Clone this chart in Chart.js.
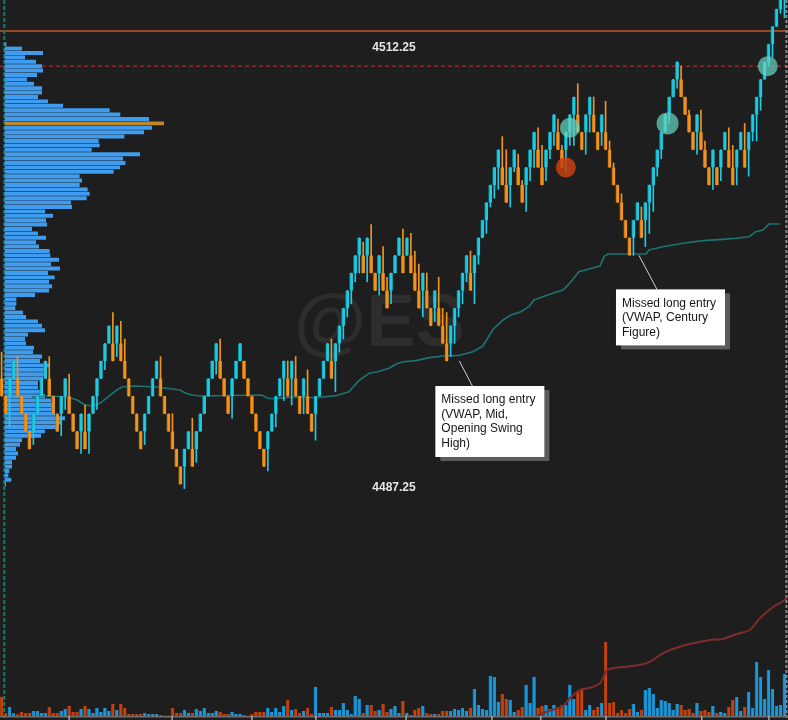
<!DOCTYPE html>
<html>
<head>
<meta charset="utf-8">
<title>@ES 1pt renko</title>
<script src="https://cdn.jsdelivr.net/npm/chart.js@4.4.1/dist/chart.umd.min.js"></script>
<style>
  html, body { margin: 0; padding: 0; background: #1e1e1e; overflow: hidden; }
  canvas { display: block; }
</style>
</head>
<body>
<canvas id="renko" width="788" height="720"></canvas>
<script>
// 1 point renko bricks, left to right
const candleOpen = [
  4493.25, 4492.25, 4492.25, 4493.25, 4493.25, 4492.25, 4491.25, 4490.25, 4490.25, 4491.25,
  4492.25, 4493.25, 4493.25, 4492.25, 4491.25, 4491.25, 4492.25, 4492.25, 4491.25, 4490.25,
  4490.25, 4490.25, 4490.25, 4491.25, 4492.25, 4493.25, 4494.25, 4495.25, 4495.25, 4495.25,
  4495.25, 4494.25, 4493.25, 4492.25, 4491.25, 4490.25, 4490.25, 4491.25, 4492.25, 4493.25,
  4493.25, 4492.25, 4491.25, 4490.25, 4489.25, 4488.25, 4488.25, 4489.25, 4489.25, 4489.25,
  4490.25, 4491.25, 4492.25, 4493.25, 4494.25, 4494.25, 4493.25, 4492.25, 4492.25, 4493.25,
  4494.25, 4494.25, 4493.25, 4492.25, 4491.25, 4490.25, 4489.25, 4489.25, 4490.25, 4491.25,
  4492.25, 4493.25, 4493.25, 4493.25, 4493.25, 4492.25, 4492.25, 4492.25, 4491.25, 4491.25,
  4492.25, 4493.25, 4494.25, 4494.25, 4494.25, 4495.25, 4496.25, 4497.25, 4498.25, 4499.25,
  4500.25, 4500.25, 4500.25, 4500.25, 4499.25, 4499.25, 4499.25, 4498.25, 4498.25, 4499.25,
  4500.25, 4500.25, 4500.25, 4500.25, 4499.25, 4498.25, 4498.25, 4498.25, 4497.25, 4497.25,
  4497.25, 4496.25, 4495.25, 4495.25, 4496.25, 4497.25, 4498.25, 4499.25, 4499.25, 4499.25,
  4500.25, 4501.25, 4502.25, 4503.25, 4504.25, 4505.25, 4505.25, 4504.25, 4504.25, 4505.25,
  4505.25, 4504.25, 4504.25, 4505.25, 4506.25, 4506.25, 4505.25, 4505.25, 4506.25, 4507.25,
  4507.25, 4506.25, 4506.25, 4507.25, 4508.25, 4508.25, 4507.25, 4507.25, 4508.25, 4508.25,
  4507.25, 4507.25, 4507.25, 4506.25, 4505.25, 4504.25, 4503.25, 4502.25, 4501.25, 4501.25,
  4502.25, 4502.25, 4502.25, 4503.25, 4504.25, 4505.25, 4506.25, 4507.25, 4508.25, 4509.25,
  4510.25, 4510.25, 4509.25, 4508.25, 4507.25, 4507.25, 4507.25, 4506.25, 4505.25, 4505.25,
  4505.25, 4505.25, 4506.25, 4506.25, 4505.25, 4505.25, 4506.25, 4506.25, 4506.25, 4507.25,
  4508.25, 4509.25, 4510.25, 4511.25, 4512.25, 4513.25, 4514.25, 4515.25
];
const candleClose = [
  4492.25, 4491.25, 4493.25, 4494.25, 4492.25, 4491.25, 4490.25, 4489.25, 4491.25, 4492.25,
  4493.25, 4494.25, 4492.25, 4491.25, 4490.25, 4492.25, 4493.25, 4491.25, 4490.25, 4489.25,
  4491.25, 4489.25, 4491.25, 4492.25, 4493.25, 4494.25, 4495.25, 4496.25, 4494.25, 4496.25,
  4494.25, 4493.25, 4492.25, 4491.25, 4490.25, 4489.25, 4491.25, 4492.25, 4493.25, 4494.25,
  4492.25, 4491.25, 4490.25, 4489.25, 4488.25, 4487.25, 4489.25, 4490.25, 4488.25, 4490.25,
  4491.25, 4492.25, 4493.25, 4494.25, 4495.25, 4493.25, 4492.25, 4491.25, 4493.25, 4494.25,
  4495.25, 4493.25, 4492.25, 4491.25, 4490.25, 4489.25, 4488.25, 4490.25, 4491.25, 4492.25,
  4493.25, 4494.25, 4492.25, 4494.25, 4492.25, 4491.25, 4493.25, 4491.25, 4490.25, 4492.25,
  4493.25, 4494.25, 4495.25, 4493.25, 4495.25, 4496.25, 4497.25, 4498.25, 4499.25, 4500.25,
  4501.25, 4499.25, 4501.25, 4499.25, 4498.25, 4500.25, 4498.25, 4497.25, 4499.25, 4500.25,
  4501.25, 4499.25, 4501.25, 4499.25, 4498.25, 4497.25, 4499.25, 4497.25, 4496.25, 4498.25,
  4496.25, 4495.25, 4494.25, 4496.25, 4497.25, 4498.25, 4499.25, 4500.25, 4498.25, 4500.25,
  4501.25, 4502.25, 4503.25, 4504.25, 4505.25, 4506.25, 4504.25, 4503.25, 4505.25, 4506.25,
  4504.25, 4503.25, 4505.25, 4506.25, 4507.25, 4505.25, 4504.25, 4506.25, 4507.25, 4508.25,
  4506.25, 4505.25, 4507.25, 4508.25, 4509.25, 4507.25, 4506.25, 4508.25, 4509.25, 4507.25,
  4506.25, 4508.25, 4506.25, 4505.25, 4504.25, 4503.25, 4502.25, 4501.25, 4500.25, 4502.25,
  4503.25, 4501.25, 4503.25, 4504.25, 4505.25, 4506.25, 4507.25, 4508.25, 4509.25, 4510.25,
  4511.25, 4509.25, 4508.25, 4507.25, 4506.25, 4508.25, 4506.25, 4505.25, 4504.25, 4506.25,
  4504.25, 4506.25, 4507.25, 4505.25, 4504.25, 4506.25, 4507.25, 4505.25, 4507.25, 4508.25,
  4509.25, 4510.25, 4511.25, 4512.25, 4513.25, 4514.25, 4515.25, 4516.25
];
const candleHigh = [
  4494.75, 4492.25, 4493.25, 4494.25, 4494.5, 4492.25, 4491.25, 4490.25, 4491.25, 4492.25,
  4493.25, 4494.25, 4494.5, 4492.25, 4491.25, 4492.25, 4493.25, 4493.5, 4491.25, 4490.25,
  4491.25, 4491.75, 4491.25, 4492.25, 4493.25, 4494.25, 4495.25, 4496.25, 4497.0, 4496.25,
  4496.5, 4495.5, 4493.25, 4492.25, 4491.25, 4490.25, 4491.25, 4492.25, 4493.25, 4494.25,
  4494.5, 4492.25, 4491.25, 4491.25, 4489.25, 4488.25, 4489.25, 4490.25, 4491.0, 4490.25,
  4491.25, 4492.25, 4493.25, 4494.25, 4495.25, 4495.5, 4493.25, 4492.25, 4493.25, 4494.25,
  4495.25, 4494.25, 4493.25, 4492.25, 4491.25, 4490.25, 4489.25, 4490.25, 4491.25, 4492.25,
  4493.25, 4494.25, 4494.25, 4494.25, 4494.5, 4492.25, 4493.25, 4493.75, 4491.25, 4492.25,
  4493.25, 4494.25, 4495.25, 4495.5, 4495.25, 4496.25, 4497.25, 4498.25, 4499.25, 4500.25,
  4501.25, 4501.0, 4501.25, 4502.0, 4499.25, 4500.25, 4500.75, 4499.0, 4499.25, 4500.25,
  4501.25, 4501.75, 4501.25, 4501.5, 4500.5, 4499.75, 4499.25, 4499.25, 4497.25, 4498.25,
  4499.0, 4497.25, 4497.0, 4496.25, 4497.25, 4498.25, 4499.25, 4500.25, 4500.5, 4500.25,
  4501.25, 4502.25, 4503.25, 4504.25, 4505.25, 4506.25, 4507.0, 4506.25, 4505.25, 4506.25,
  4506.0, 4504.5, 4505.25, 4506.25, 4507.25, 4507.5, 4506.5, 4506.25, 4507.25, 4508.25,
  4508.0, 4506.5, 4507.25, 4508.25, 4509.25, 4510.0, 4507.25, 4508.25, 4509.25, 4509.25,
  4507.25, 4508.25, 4509.0, 4506.75, 4505.5, 4504.25, 4503.75, 4502.25, 4501.25, 4502.25,
  4503.25, 4503.0, 4503.25, 4504.25, 4505.25, 4506.25, 4507.25, 4508.25, 4509.25, 4510.25,
  4511.25, 4511.0, 4509.25, 4508.5, 4507.25, 4508.25, 4508.5, 4506.75, 4505.25, 4506.25,
  4505.25, 4506.25, 4507.25, 4507.5, 4506.5, 4506.25, 4507.25, 4507.75, 4507.25, 4508.25,
  4509.25, 4510.25, 4511.25, 4512.25, 4513.25, 4514.25, 4515.25, 4516.25
];
const candleLow = [
  4492.25, 4491.25, 4490.5, 4493.25, 4492.25, 4491.25, 4490.25, 4489.25, 4489.5, 4491.25,
  4492.25, 4493.25, 4492.25, 4491.25, 4490.25, 4490.0, 4491.5, 4491.25, 4490.25, 4489.25,
  4489.0, 4489.25, 4489.0, 4491.25, 4491.5, 4493.25, 4493.75, 4495.25, 4494.25, 4494.5,
  4494.25, 4493.25, 4492.25, 4491.25, 4490.25, 4489.25, 4489.5, 4491.25, 4492.25, 4493.25,
  4492.25, 4491.25, 4490.25, 4489.25, 4488.25, 4487.25, 4487.0, 4489.25, 4488.25, 4488.5,
  4490.25, 4491.25, 4492.25, 4493.25, 4493.5, 4493.25, 4492.25, 4491.25, 4491.0, 4493.25,
  4494.25, 4493.25, 4492.25, 4491.25, 4490.25, 4489.25, 4488.25, 4488.0, 4490.25, 4490.5,
  4492.25, 4492.0, 4492.25, 4491.75, 4492.25, 4491.25, 4491.25, 4491.25, 4490.25, 4489.75,
  4492.25, 4493.25, 4494.25, 4493.25, 4492.5, 4494.75, 4495.5, 4496.75, 4497.5, 4498.75,
  4499.25, 4499.25, 4498.75, 4499.25, 4498.25, 4498.0, 4498.25, 4497.25, 4497.5, 4499.25,
  4500.25, 4499.25, 4500.25, 4499.25, 4498.25, 4497.25, 4496.75, 4497.25, 4496.25, 4496.5,
  4496.25, 4495.25, 4494.25, 4494.5, 4495.25, 4496.75, 4497.5, 4498.75, 4498.25, 4497.5,
  4499.75, 4501.25, 4501.5, 4503.0, 4503.5, 4504.0, 4504.25, 4503.25, 4503.0, 4505.0,
  4504.25, 4503.25, 4502.75, 4504.5, 4505.25, 4505.25, 4504.25, 4504.5, 4505.75, 4506.5,
  4506.25, 4505.25, 4505.0, 4506.5, 4506.5, 4507.25, 4506.25, 4506.0, 4507.25, 4507.25,
  4506.25, 4506.5, 4506.25, 4505.25, 4504.25, 4503.25, 4502.25, 4501.25, 4500.25, 4500.25,
  4502.25, 4501.25, 4500.75, 4501.5, 4502.75, 4504.75, 4505.75, 4507.25, 4507.75, 4509.25,
  4509.75, 4509.25, 4508.25, 4507.25, 4506.25, 4506.0, 4506.25, 4505.25, 4504.25, 4504.0,
  4504.25, 4504.5, 4506.25, 4505.25, 4504.25, 4504.25, 4506.25, 4505.25, 4504.75, 4506.75,
  4506.75, 4508.5, 4510.25, 4511.0, 4511.5, 4513.25, 4514.0, 4513.75
];
const volume = [
  965, 135, 450, 135, 85, 200, 150, 150, 250, 250,
  150, 150, 450, 150, 150, 250, 350, 500, 200, 200,
  350, 500, 350, 150, 400, 200, 400, 250, 600, 300,
  600, 400, 100, 100, 100, 100, 150, 100, 100, 100,
  50, 25, 25, 400, 150, 150, 300, 150, 150, 350,
  250, 400, 150, 150, 250, 200, 100, 100, 200, 100,
  100, 50, 25, 100, 200, 200, 200, 400, 200, 400,
  200, 500, 800, 300, 350, 150, 250, 400, 100, 1450,
  150, 150, 150, 450, 300, 300, 650, 300, 100, 1000,
  850, 150, 550, 550, 250, 300, 600, 200, 350, 500,
  150, 750, 150, 50, 300, 400, 500, 150, 100, 100,
  100, 250, 250, 250, 350, 300, 400, 250, 400, 1350,
  550, 350, 300, 2000, 1950, 700, 1100, 850, 800, 200,
  300, 450, 1550, 650, 1950, 400, 500, 550, 350, 550,
  450, 550, 550, 1550, 850, 1250, 1350, 300, 550, 300,
  450, 650, 3700, 650, 700, 150, 300, 150, 350, 600,
  200, 300, 1300, 1400, 1100, 400, 800, 750, 650, 300,
  600, 550, 300, 350, 150, 650, 250, 300, 200, 500,
  150, 200, 150, 450, 800, 950, 250, 450, 1200, 400,
  2700, 1950, 850, 2300, 1350, 500, 550, 2100
];

// session VWAP, read at brick positions
const vwapAt = [7.6, 12.2, 16.5, 19, 21, 22.8, 24.8, 26.5, 29, 30.3, 33.1, 39.1, 42.9, 44.9, 46.2, 47.9, 49.9,
  65.5, 67, 69, 74.1, 79.1, 84.2, 87.4, 89.9, 92.5, 94.7, 97.5, 99.3, 101, 104.3, 107.6, 111.1, 115.1,
  118.6, 121.1, 123.7, 126.2, 128.2, 130.7, 132.7, 134, 136.2, 138.7, 141.3, 142.8, 145.3, 147.8, 150.6,
  151.6, 152.6, 162.2, 162.9, 166.4, 171.5, 176.5, 181.5, 184.8, 188.1, 189.8, 191.6, 193.1, 195.9];
const vwapPrice = [4492.2, 4492.26, 4492.2, 4492.03, 4491.75, 4491.69, 4491.86, 4492.15, 4492.6, 4492.77,
  4492.83, 4492.77, 4492.66, 4492.6, 4492.43, 4492.32, 4492.26, 4492.32, 4492.13, 4492.11, 4492.22,
  4492.16, 4492.28, 4492.5, 4493.13, 4493.55, 4493.64, 4493.84, 4494.08, 4494.21, 4494.27, 4494.44,
  4494.53, 4494.57, 4494.78, 4495.1, 4496.05, 4496.58, 4496.86, 4497.05, 4497.34, 4497.72, 4497.9,
  4498.1, 4498.28, 4498.63, 4499.32, 4499.48, 4499.65, 4500.18, 4500.33, 4500.33, 4500.56, 4500.74,
  4500.94, 4501.09, 4501.16, 4501.22, 4501.31, 4501.6, 4501.69, 4502.03, 4502.03];

// cumulative volume of the new session (bottom panel)
const cumAt = [134.7, 137.6, 141.3, 143, 145.5, 148.1, 150.6, 152.3, 153.9, 156.4, 160.6, 163.2, 165.7,
  168.2, 170.7, 173.2, 178.3, 181.5, 185, 188.3, 190.8, 194.2, 195.9, 197.7];
const cumVolume = [0, 2500, 5000, 8850, 13000, 14150, 16350, 22650, 24000, 24500, 25500, 27150, 30500,
  33000, 34650, 36000, 38000, 38500, 41000, 43000, 48850, 54650, 56500, 59000];

// volume profile, one row per tick from the top
const profileTop = 4512.25;
const profileTick = 0.25;
const profileVolume = [
  25, 417, 942, 492, 767, 917, 942, 792, 542, 717,
  917, 917, 817, 1067, 1442, 2608, 2875, 3592, 3967, 3667,
  3467, 2975, 2333, 2358, 2158, 3367, 2942, 3000, 2867, 2708,
  1858, 1917, 1858, 2058, 2108, 2033, 1642, 1667, 992, 1192,
  1017, 1042, 667, 817, 1017, 767, 842, 1108, 1125, 1342,
  1142, 1367, 1067, 1233, 1092, 1167, 1092, 742, 275, 275,
  250, 442, 517, 817, 917, 992, 567, 492, 517, 717,
  692, 917, 867, 1092, 992, 967, 942, 817, 817, 867,
  992, 1142, 1167, 1167, 1242, 1492, 1392, 1317, 992, 892,
  417, 367, 267, 317, 267, 167, 167, 100, 75, 150, 17
];

const levelPrice = [4513.0, 4511.0];
const labelPrice = [4512.25, 4487.25];
const timeTicks = [17, 42.9, 63, 79.1, 101.8, 123.4, 135.7, 152.1, 176.2, 193.1];
const sessionBreaks = [0.68, 197.5];

const entryAt = [142, 143, 167.6, 192.8];
const entryPrice = [4505.25, 4507.5, 4507.75, 4511.0];
const entrySide = ['short', 'long', 'long', 'long'];

const noteAt = [115.2, 160.4];
const notePrice = [4494.25, 4500.25];
const noteText = [
  ['Missed long entry', '(VWAP, Mid,', 'Opening Swing', 'High)'],
  ['Missed long entry', '(VWAP, Century', 'Figure)']
];

// styles
const BG = '#1e1e1e';
const col = {
  up: '#1ccbe3', upEdge: '#0e97a8', down: '#f1931d', downEdge: '#bf6a10',
  volUp: '#1b97da', volDown: '#c4420e', profile: '#3f9cee', poc: '#c0882a',
  vwap: '#1d7272', cum: '#7e2c2c'
};
const noteBox = [
  { dx: -24, dy: 25, w: 109, h: 71, lx: 13 },
  { dx: -23, dy: 34, w: 109, h: 56, lx: 18 }
];
const FONT = '"Liberation Sans", Arial, sans-serif';

const isUp = candleOpen.map((o, i) => candleClose[i] > o);
const pocVol = Math.max.apply(null, profileVolume);

const overlay = {
  id: 'overlay',
  beforeDraw(chart) {
    const ctx = chart.ctx;
    ctx.save();
    ctx.fillStyle = BG;
    ctx.fillRect(0, 0, chart.width, chart.height);
    ctx.restore();
  },
  beforeDatasetsDraw(chart) {
    const { ctx, chartArea: a, scales } = chart;
    const x = scales.x, y = scales.y;
    ctx.save();
    // watermark
    ctx.font = 'bold 74px ' + FONT;
    ctx.fillStyle = '#2d2d2d';
    ctx.textBaseline = 'alphabetic';
    ctx.textAlign = 'left';
    ctx.fillText('@ES', a.left + 294, a.top + 346);

    // level lines
    let py = y.getPixelForValue(levelPrice[0]);
    ctx.strokeStyle = '#c2562a';
    ctx.lineWidth = 1.5;
    ctx.beginPath(); ctx.moveTo(a.left, py); ctx.lineTo(a.right, py); ctx.stroke();
    py = y.getPixelForValue(levelPrice[1]);
    ctx.strokeStyle = '#8e2a2a';
    ctx.setLineDash([4, 3]);
    ctx.beginPath(); ctx.moveTo(a.left, py); ctx.lineTo(a.right, py); ctx.stroke();

    // session separators
    ctx.lineWidth = 2;
    ctx.setLineDash([4, 2]);
    ctx.strokeStyle = '#177a72';
    let px = x.getPixelForValue(sessionBreaks[0]);
    ctx.beginPath(); ctx.moveTo(px, a.top); ctx.lineTo(px, a.bottom); ctx.stroke();
    ctx.setLineDash([3, 2]);
    ctx.strokeStyle = '#8a8a8a';
    px = x.getPixelForValue(sessionBreaks[1]);
    ctx.beginPath(); ctx.moveTo(px, a.top); ctx.lineTo(px, a.bottom); ctx.stroke();
    ctx.restore();
  },
  afterDatasetsDraw(chart) {
    const { ctx, chartArea: a, scales } = chart;
    const x = scales.x, y = scales.y, yv = scales.yv;
    ctx.save();

    // time axis at the volume base
    const base = yv.getPixelForValue(0);
    ctx.strokeStyle = '#6e6e6e';
    ctx.lineWidth = 1.5;
    ctx.beginPath(); ctx.moveTo(a.left, base + 0.75); ctx.lineTo(a.right, base + 0.75); ctx.stroke();
    ctx.strokeStyle = '#a8a8a8';
    ctx.lineWidth = 1.5;
    timeTicks.forEach(function(t) {
      const tx = x.getPixelForValue(t);
      ctx.beginPath(); ctx.moveTo(tx, base); ctx.lineTo(tx, a.bottom); ctx.stroke();
    });

    // profile high / low prices
    ctx.font = 'bold 12px ' + FONT;
    ctx.fillStyle = '#e4e4e4';
    ctx.textAlign = 'center';
    ctx.textBaseline = 'middle';
    labelPrice.forEach(function(p) {
      ctx.fillText(p.toFixed(2), (a.left + a.right) / 2, y.getPixelForValue(p) + 3);
    });

    // notes
    ctx.font = '12px ' + FONT;
    ctx.textAlign = 'left';
    noteAt.forEach(function(n, i) {
      const ax = x.getPixelForValue(n), ay = y.getPixelForValue(notePrice[i]);
      const b = noteBox[i];
      const bx = ax + b.dx, by = ay + b.dy;
      ctx.strokeStyle = '#d0d0d0';
      ctx.lineWidth = 1;
      ctx.beginPath(); ctx.moveTo(ax, ay); ctx.lineTo(ax + b.lx, by); ctx.stroke();
      ctx.fillStyle = '#5c5c5c';
      ctx.fillRect(bx + 5, by + 4, b.w, b.h);
      ctx.fillStyle = '#ffffff';
      ctx.fillRect(bx, by, b.w, b.h);
      ctx.fillStyle = '#151515';
      noteText[i].forEach(function(line, j) {
        ctx.fillText(line, bx + 6, by + 14 + j * 14.5);
      });
    });
    ctx.restore();
  }
};

const bodies = candleOpen.map((o, i) => ({ x: i, y: [o, candleClose[i]] }));
const wicks = candleOpen.map((o, i) => ({ x: i, y: [candleLow[i], candleHigh[i]] }));

const chart = new Chart(document.getElementById('renko'), {
  type: 'bar',
  data: {
    datasets: [
      {
        label: 'Circles',
        type: 'line',
        order: 1,
        showLine: false,
        xAxisID: 'x', yAxisID: 'y',
        data: entryAt.map((e, i) => ({ x: e, y: entryPrice[i] })),
        pointRadius: entrySide.map((s, i) => i === 2 ? 11 : 10),
        pointBorderWidth: 0,
        pointBackgroundColor: entrySide.map(s => s === 'short' ? 'rgba(200, 66, 16, 0.85)' : 'rgba(98, 212, 192, 0.72)')
      },
      {
        label: 'Bodies',
        order: 2,
        xAxisID: 'x', yAxisID: 'y',
        data: bodies,
        grouped: false,
        barThickness: 3.4,
        borderSkipped: false,
        borderWidth: { left: 1, right: 0, top: 0, bottom: 0 },
        backgroundColor: isUp.map(u => u ? col.up : col.down),
        borderColor: isUp.map(u => u ? col.upEdge : col.downEdge)
      },
      {
        label: 'Wicks',
        order: 3,
        xAxisID: 'x', yAxisID: 'y',
        data: wicks,
        grouped: false,
        barThickness: 1,
        backgroundColor: isUp.map(u => u ? col.up : col.down)
      },
      {
        label: 'VWAP',
        type: 'line',
        order: 4,
        xAxisID: 'x', yAxisID: 'y',
        data: vwapAt.map((v, i) => ({ x: v, y: vwapPrice[i] })),
        borderColor: col.vwap,
        borderWidth: 1.6,
        pointRadius: 0,
        tension: 0
      },
      {
        label: 'Cumulative volume',
        type: 'line',
        order: 5,
        xAxisID: 'x', yAxisID: 'yc',
        data: cumAt.map((c, i) => ({ x: c, y: cumVolume[i] })),
        borderColor: col.cum,
        borderWidth: 2,
        pointRadius: 0,
        tension: 0.2
      },
      {
        label: 'Volume',
        order: 6,
        xAxisID: 'x', yAxisID: 'yv',
        data: volume.map((v, i) => ({ x: i, y: v })),
        grouped: false,
        barThickness: 3.2,
        borderSkipped: false,
        borderWidth: { left: 1, right: 0, top: 0, bottom: 0 },
        backgroundColor: isUp.map(u => u ? col.volUp : col.volDown),
        borderColor: isUp.map(u => u ? '#137cb4' : '#9c330a')
      },
      {
        label: 'Profile',
        order: 7,
        indexAxis: 'y',
        xAxisID: 'xp', yAxisID: 'y',
        data: profileVolume.map((v, i) => ({ x: v, y: profileTop - i * profileTick })),
        grouped: false,
        barThickness: 3.3,
        backgroundColor: profileVolume.map(v => v === pocVol ? col.poc : col.profile)
      }
    ]
  },
  options: {
    responsive: false,
    animation: false,
    events: [],
    layout: { padding: 0, autoPadding: false },
    plugins: {
      legend: { display: false },
      tooltip: { enabled: false }
    },
    scales: {
      x: { type: 'linear', axis: 'x', position: 'bottom', min: -0.4, max: 197.9, offset: false, bounds: 'data', display: false },
      xp: { type: 'linear', axis: 'x', position: 'top', min: -125, max: 19575, offset: false, display: false },
      y: { type: 'linear', axis: 'y', position: 'right', min: 4473.852, max: 4514.761, offset: false, bounds: 'data', display: false },
      yv: { type: 'linear', axis: 'y', position: 'left', min: -200, max: 35800, offset: false, display: false },
      yc: { type: 'linear', axis: 'y', position: 'left', min: -2000, max: 358000, offset: false, display: false }
    }
  },
  plugins: [overlay]
});
</script>
</body>
</html>
